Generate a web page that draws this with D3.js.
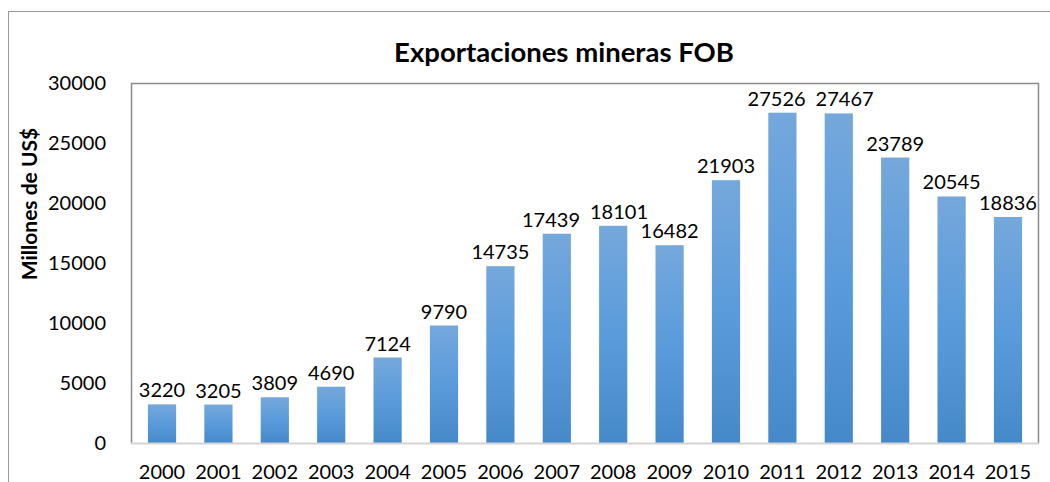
<!DOCTYPE html>
<html>
<head>
<meta charset="utf-8">
<script src="https://cdn.jsdelivr.net/npm/d3@7"></script>
<style>
  body { margin: 0; background: #fff; }
  text { font-family: Lato, "Open Sans", sans-serif; fill: #000; }
</style>
</head>
<body>
<svg width="1050" height="482"></svg>
<script>
var years = ["2000","2001","2002","2003","2004","2005","2006","2007","2008","2009","2010","2011","2012","2013","2014","2015"];
var values = [3220,3205,3809,4690,7124,9790,14735,17439,18101,16482,21903,27526,27467,23789,20545,18836];
var yTicks = [0,5000,10000,15000,20000,25000,30000];

var svg = d3.select("svg");
var plotLeft = 131, plotRight = 1039, plotTop = 83, plotBottom = 443;

// gradient like the spreadsheet bars
var grad = svg.append("defs").append("linearGradient")
    .attr("id", "barGrad")
    .attr("x1", 0).attr("y1", 0).attr("x2", 0).attr("y2", 1);
grad.append("stop").attr("offset", "0%").attr("stop-color", "#75a8dc");
grad.append("stop").attr("offset", "50%").attr("stop-color", "#5a9bdb");
grad.append("stop").attr("offset", "100%").attr("stop-color", "#4689c9");

// outer chart frame
svg.append("rect")
    .attr("x", 8.5).attr("y", 11.5)
    .attr("width", 1100).attr("height", 500)
    .attr("fill", "none")
    .attr("stroke", "#9a9a9a");

var x = d3.scaleBand()
    .domain(years)
    .range([plotLeft, plotRight])
    .paddingInner(0.5)
    .paddingOuter(0.3);

var y = d3.scaleLinear()
    .domain([0, 30000])
    .range([plotBottom, plotTop]);

// plot area border
svg.append("path")
    .attr("d", "M" + (plotLeft + 0.5) + "," + plotBottom + "V" + (plotTop + 0.5) + "H" + (plotRight - 0.5) + "V" + plotBottom)
    .attr("fill", "none")
    .attr("stroke", "#8a8a8a")
    .attr("stroke-width", 1.5);

svg.selectAll(".bar")
    .data(values)
    .enter()
    .append("rect")
    .attr("class", "bar")
    .attr("x", (d, i) => x(years[i]))
    .attr("y", d => y(d))
    .attr("width", x.bandwidth())
    .attr("height", d => y(0) - y(d))
    .attr("fill", "url(#barGrad)");

// x axis line
svg.append("line")
    .attr("x1", plotLeft).attr("x2", plotRight)
    .attr("y1", plotBottom + 0.5).attr("y2", plotBottom + 0.5)
    .attr("stroke", "#d4d4d4")
    .attr("stroke-width", 2);

var vals = svg.selectAll(".val")
    .data(values)
    .enter()
    .append("text")
    .attr("class", "val")
    .attr("x", (d, i) => x(years[i]) + x.bandwidth() / 2)
    .attr("y", d => y(d) - 7)
    .attr("text-anchor", "middle")
    .style("font-size", "20px")
    .text(d => d);

// push apart neighbouring labels that would collide (like excel does)
var nodesV = vals.nodes();
for (var i = 0; i < nodesV.length - 1; i++) {
    var a = nodesV[i], b = nodesV[i + 1];
    var ya = +a.getAttribute("y"), yb = +b.getAttribute("y");
    if (Math.abs(ya - yb) > 18) continue;
    var xa = +a.getAttribute("x"), xb = +b.getAttribute("x");
    var need = (a.getComputedTextLength() + b.getComputedTextLength()) / 2 + 10;
    var gap = xb - xa;
    if (gap < need) {
        var shift = (need - gap) / 2;
        a.setAttribute("x", xa - shift);
        b.setAttribute("x", xb + shift);
    }
}

svg.selectAll(".ytick")
    .data(yTicks)
    .enter()
    .append("text")
    .attr("class", "ytick")
    .attr("x", 106)
    .attr("y", d => y(d))
    .attr("dy", "0.36em")
    .attr("text-anchor", "end")
    .style("font-size", "20px")
    .text(d => d);

svg.selectAll(".xtick")
    .data(years)
    .enter()
    .append("text")
    .attr("class", "xtick")
    .attr("x", d => x(d) + x.bandwidth() / 2)
    .attr("y", 479)
    .attr("text-anchor", "middle")
    .style("font-size", "20px")
    .text(d => d);

svg.append("text")
    .attr("x", 564)
    .attr("y", 62)
    .attr("text-anchor", "middle")
    .style("font-size", "27.5px")
    .style("font-weight", "bold")
    .text("Exportaciones mineras FOB");

svg.append("text")
    .attr("transform", "translate(37,204) rotate(-90)")
    .attr("text-anchor", "middle")
    .style("font-size", "21px")
    .style("font-weight", "bold")
    .text("Millones de US$");
</script>
</body>
</html>
